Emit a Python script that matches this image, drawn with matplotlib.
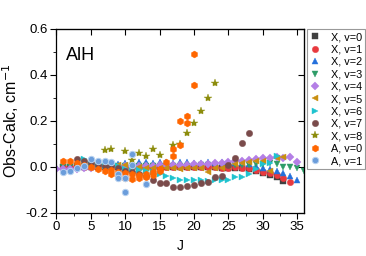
import numpy as np
import matplotlib.pyplot as plt
from matplotlib.ticker import MultipleLocator

plt.rcParams['font.family'] = ['Liberation Sans', 'DejaVu Sans']

# X state, v=0..8 (J, Obs-Calc)
J_x0 = list(range(1, 34))
x0 = [0.0, 0.002, 0.003, 0.002, 0.0, 0.0, -0.002, 0.0, 0.0, -0.003, -0.002, 0.0, 0.0, 0.0,
      0.0, 0.0, -0.002, 0.0, 0.0, 0.0, 0.0, 0.0, -0.002, -0.003, -0.003, -0.004, -0.006,
      -0.008, -0.016, -0.028, -0.035, -0.042, -0.06]
J_x1 = list(range(1, 35))
x1 = [0.0, 0.0, 0.002, 0.0, -0.002, 0.0, 0.0, -0.002, 0.0, 0.0, -0.002, 0.0, 0.0, 0.0,
      0.0, -0.002, 0.0, 0.0, 0.0, 0.0, 0.0, -0.002, -0.002, -0.003, -0.003, -0.002, -0.004,
      -0.006, -0.012, -0.022, -0.028, -0.036, -0.05, -0.064]
J_x2 = list(range(0, 36))
x2 = [0.0, 0.0, 0.003, 0.005, 0.006, 0.008, 0.008, 0.01, 0.01, 0.012, 0.018, 0.02, 0.02,
      0.02, 0.019, 0.02, 0.02, 0.019, 0.02, 0.02, 0.019, 0.019, 0.02, 0.019, 0.02, 0.02,
      0.018, 0.016, 0.012, 0.004, -0.005, -0.01, -0.016, -0.026, -0.04, -0.055]
J_x3 = list(range(1, 37))
x3 = [0.0, 0.002, 0.003, 0.005, 0.005, 0.004, 0.004, 0.005, 0.005, 0.004, 0.005, 0.005,
      0.005, 0.005, 0.006, 0.006, 0.006, 0.006, 0.006, 0.006, 0.007, 0.007, 0.007, 0.008,
      0.008, 0.008, 0.009, 0.01, 0.012, 0.014, 0.016, 0.012, 0.002, 0.001, -0.006, -0.017]
J_x4 = list(range(0, 36))
x4 = [-0.008, -0.009, -0.009, -0.008, -0.006, -0.004, -0.002, 0.0, 0.0, 0.002, 0.003,
      0.004, 0.005, 0.006, 0.006, 0.007, 0.008, 0.009, 0.01, 0.01, 0.012, 0.014, 0.015,
      0.016, 0.018, 0.021, 0.025, 0.028, 0.03, 0.034, 0.037, 0.04, 0.042, 0.04, 0.043, 0.023]
J_x5 = list(range(4, 34))
x5 = [0.012, 0.006, 0.004, 0.002, 0.006, 0.008, 0.009, 0.004, -0.002, -0.004, -0.006,
      -0.006, -0.006, -0.006, -0.01, -0.006, -0.006, -0.006, -0.02, -0.006, -0.003,
      0.006, 0.012, 0.018, 0.022, 0.028, 0.026, -0.018, 0.04, 0.042]
J_x6 = list(range(4, 33))
x6 = [0.033, 0.012, 0.008, 0.006, 0.005, 0.003, -0.008, -0.01, -0.015, -0.018, -0.024,
      -0.032, -0.04, -0.05, -0.055, -0.057, -0.055, -0.058, -0.06, -0.057, -0.055, -0.055,
      -0.045, -0.043, -0.03, -0.01, 0.014, 0.016, 0.048]
J_x7 = list(range(3, 29))
x7 = [0.033, 0.025, 0.016, 0.01, 0.005, 0.004, -0.005, -0.016, -0.024, -0.032, -0.04,
      -0.058, -0.07, -0.07, -0.089, -0.087, -0.082, -0.077, -0.069, -0.064, -0.045, -0.039,
      0.01, 0.038, 0.106, 0.146]
J_x8 = [7, 8, 10, 11, 12, 13, 14, 15, 17, 18, 19, 20, 21, 22, 23]
x8 = [0.072, 0.078, 0.068, 0.032, 0.062, 0.046, 0.079, 0.052, 0.094, 0.102, 0.146, 0.19,
      0.244, 0.301, 0.366]

# A state, v=0 and v=1 (two components at some J)
J_a0 = [1, 2, 3, 4, 5, 6, 7, 8, 8, 9, 9, 10, 10, 11, 11, 12, 12, 13, 13, 14, 14, 15, 15,
        16, 17, 17, 18, 18, 19, 19, 20, 20]
a0 = [0.026, 0.024, 0.016, 0.01, -0.002, -0.01, -0.016, -0.014, -0.03, -0.022, -0.04,
      -0.026, -0.05, -0.03, -0.052, -0.034, -0.05, -0.03, -0.045, -0.022, -0.036, -0.008,
      -0.018, 0.02, 0.078, 0.048, 0.2, 0.097, 0.22, 0.193, 0.49, 0.357]
J_a1 = [1, 2, 3, 4, 5, 6, 7, 8, 9, 9, 10, 10, 11, 11, 13]
a1 = [-0.02, -0.016, -0.004, 0.006, 0.036, 0.026, 0.027, 0.022, -0.03, -0.05, -0.05,
      -0.11, 0.057, 0.01, -0.076]

series = [
    (J_x0, x0, 'X, v=0', 's', '#404040'),
    (J_x1, x1, 'X, v=1', 'o', '#e8393e'),
    (J_x2, x2, 'X, v=2', '^', '#2470dc'),
    (J_x3, x3, 'X, v=3', 'v', '#2e9c68'),
    (J_x4, x4, 'X, v=4', 'D', '#b47fe6'),
    (J_x5, x5, 'X, v=5', '<', '#c98f10'),
    (J_x6, x6, 'X, v=6', '>', '#1fc3cf'),
    (J_x7, x7, 'X, v=7', 'o', '#7a4b4b'),
    (J_x8, x8, 'X, v=8', '*', '#8c8c0c'),
    (J_a0, a0, 'A, v=0', 'h', '#ff6600'),
    (J_a1, a1, 'A, v=1', 'o', '#6b9ddb'),
]

fig = plt.figure(figsize=(3.66, 2.56), dpi=100)
ax = fig.add_axes([0.154, 0.168, 0.677, 0.719])

for jj, vals, lab, mk, col in series:
    ms = 4.6
    if mk == 'D':
        ms = 3.8
    elif mk == '*':
        ms = 6
    elif mk == 'h':
        ms = 5
    if lab == 'A, v=1':
        ax.plot(jj, vals, ls='none', marker=mk, ms=ms, mfc=col, mec='#b7d2f0',
                mew=0.7, label=lab)
    else:
        ax.plot(jj, vals, ls='none', marker=mk, ms=ms, color=col, mew=0.3, label=lab)

ax.set_xlim(0, 36)
ax.set_ylim(-0.2, 0.6)
ax.set_xticks([0, 5, 10, 15, 20, 25, 30, 35])
ax.set_xticklabels(['0', '5', '10', '15', '20', '25', '30', '35'])
ax.set_yticks([-0.2, 0.0, 0.2, 0.4, 0.6])
ax.set_yticklabels(['-0.2', '0.0', '0.2', '0.4', '0.6'])
ax.xaxis.set_minor_locator(MultipleLocator(2.5))
ax.yaxis.set_minor_locator(MultipleLocator(0.1))
ax.tick_params(axis='both', which='major', direction='out', length=4, width=0.8,
               labelsize=9.5, pad=2)
ax.tick_params(axis='both', which='minor', direction='out', length=2, width=0.6)

# inward ticks on top and right
top = ax.secondary_xaxis('top')
top.set_xticks([0, 5, 10, 15, 20, 25, 30, 35])
top.tick_params(direction='in', length=4, width=0.8, labeltop=False)
right = ax.secondary_yaxis('right')
right.set_yticks([-0.2, 0.0, 0.2, 0.4, 0.6])
right.tick_params(direction='in', length=4, width=0.8, labelright=False)

for s in ax.spines.values():
    s.set_linewidth(0.9)

ax.set_xlabel('J', fontsize=10, labelpad=4)
ax.set_ylabel('Obs-Calc, cm$^{-1}$', fontsize=11.5, labelpad=3)
ax.text(0.04, 0.9, 'AlH', transform=ax.transAxes, fontsize=13, va='top')

leg = fig.legend(loc='upper left', bbox_to_anchor=(0.838, 0.887), fontsize=7.8,
                 frameon=True, fancybox=False, edgecolor='#999999', framealpha=1,
                 handlelength=1.0, handletextpad=0.9, borderpad=0.3, labelspacing=0.22,
                 borderaxespad=0)
leg.get_frame().set_linewidth(0.8)

fig.savefig('out.png', dpi=100)
